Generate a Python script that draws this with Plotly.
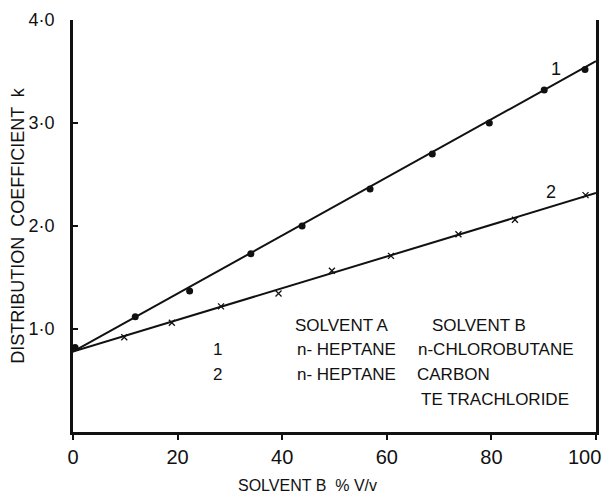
import plotly.graph_objects as go

# ---- data ----
x_series1 = [0.4, 11.9, 22.3, 34.0, 43.8, 56.8, 68.7, 79.6, 90.1, 97.9]
k_series1 = [0.82, 1.12, 1.37, 1.73, 2.00, 2.36, 2.70, 3.00, 3.32, 3.52]

x_series2 = [9.8, 18.9, 28.3, 39.3, 49.5, 60.8, 73.7, 84.5, 98.0]
k_series2 = [0.92, 1.06, 1.22, 1.345, 1.565, 1.71, 1.92, 2.06, 2.30]

fit_x = [0, 100]
fit_k1 = [0.78, 3.60]
fit_k2 = [0.78, 2.32]

x_ticks = [0, 20, 40, 60, 80, 100]
x_tick_labels = ["0", "20", "40", "60", "80", "100"]
y_ticks = [1, 2, 3, 4]
y_tick_labels = ["1·0", "2·0", "3·0", "4·0"]

curve_labels = ["1", "2"]
curve_label_x = [92.4, 91.3]
curve_label_k = [3.52, 2.33]

FONT = "Liberation Sans"
BLACK = "#111111"

fig = go.Figure()

fig.add_trace(go.Scatter(x=fit_x, y=fit_k1, mode="lines",
                         line=dict(color=BLACK, width=2), showlegend=False,
                         hoverinfo="skip"))
fig.add_trace(go.Scatter(x=fit_x, y=fit_k2, mode="lines",
                         line=dict(color=BLACK, width=2), showlegend=False,
                         hoverinfo="skip"))
fig.add_trace(go.Scatter(x=x_series1, y=k_series1, mode="markers",
                         marker=dict(symbol="circle", size=7, color=BLACK),
                         showlegend=False, cliponaxis=False))
fig.add_trace(go.Scatter(x=x_series2, y=k_series2, mode="markers",
                         marker=dict(symbol="x-thin", size=6,
                                     line=dict(color=BLACK, width=1.3)),
                         showlegend=False, cliponaxis=False))

# curve numbers
for lab, lx, ly in zip(curve_labels, curve_label_x, curve_label_k):
    fig.add_annotation(x=lx, y=ly, text=lab, showarrow=False,
                       font=dict(family=FONT, size=18, color=BLACK))

# key table
key_rows = [
    ("SOLVENT A", 42.1, 1.037, "left"),
    ("SOLVENT B", 68.3, 1.037, "left"),
    ("1", 27.7, 0.804, "center"),
    ("n- HEPTANE", 42.5, 0.804, "left"),
    ("n-CHLOROBUTANE", 65.6, 0.804, "left"),
    ("2", 27.7, 0.561, "center"),
    ("n- HEPTANE", 42.5, 0.561, "left"),
    ("CARBON", 65.4, 0.561, "left"),
    ("TE TRACHLORIDE", 66.2, 0.318, "left"),
]
for txt, tx, ty, anc in key_rows:
    fig.add_annotation(x=tx, y=ty, text=txt, showarrow=False, xanchor=anc,
                       font=dict(family=FONT, size=17, color=BLACK))

# x-axis title (offset to the left as in the original drawing)
fig.add_annotation(x=31.2, xref="x", y=-0.129, yref="paper",
                   text="SOLVENT B  % V/v", showarrow=False,
                   xanchor="left", yanchor="middle",
                   font=dict(family=FONT, size=16, color=BLACK))

# last x tick label drawn just inside the right edge (as in the original)
fig.add_annotation(x=x_ticks[-1], xref="x", y=-0.061, yref="paper",
                   text=x_tick_labels[-1], showarrow=False,
                   xanchor="right", xshift=7, yanchor="middle",
                   font=dict(family=FONT, size=20, color=BLACK))
tick_text_shown = x_tick_labels[:-1] + [""]

fig.update_layout(
    width=608, height=494,
    margin=dict(l=73, r=12, t=20, b=62),
    paper_bgcolor="white", plot_bgcolor="white",
    font=dict(family=FONT, color=BLACK),
    xaxis=dict(range=[0, 100], tickvals=x_ticks, ticktext=tick_text_shown,
               automargin=False,
               showgrid=False, zeroline=False, showline=True,
               linecolor=BLACK, linewidth=3, ticks="outside", ticklen=5,
               tickwidth=1.5, tickcolor=BLACK,
               tickfont=dict(family=FONT, size=20, color=BLACK)),
    yaxis=dict(range=[0, 4], tickvals=y_ticks, ticktext=y_tick_labels,
               automargin=False,
               showgrid=False, zeroline=False, showline=True, mirror=True,
               linecolor=BLACK, linewidth=3, ticks="inside", ticklen=5,
               tickwidth=1.5, tickcolor=BLACK, ticklabelstandoff=12,
               tickfont=dict(family=FONT, size=18, color=BLACK),
               title=dict(text="DISTRIBUTION  COEFFICIENT  k", standoff=0,
                          font=dict(family=FONT, size=18, color=BLACK))),
)

fig.write_html("out.html")
